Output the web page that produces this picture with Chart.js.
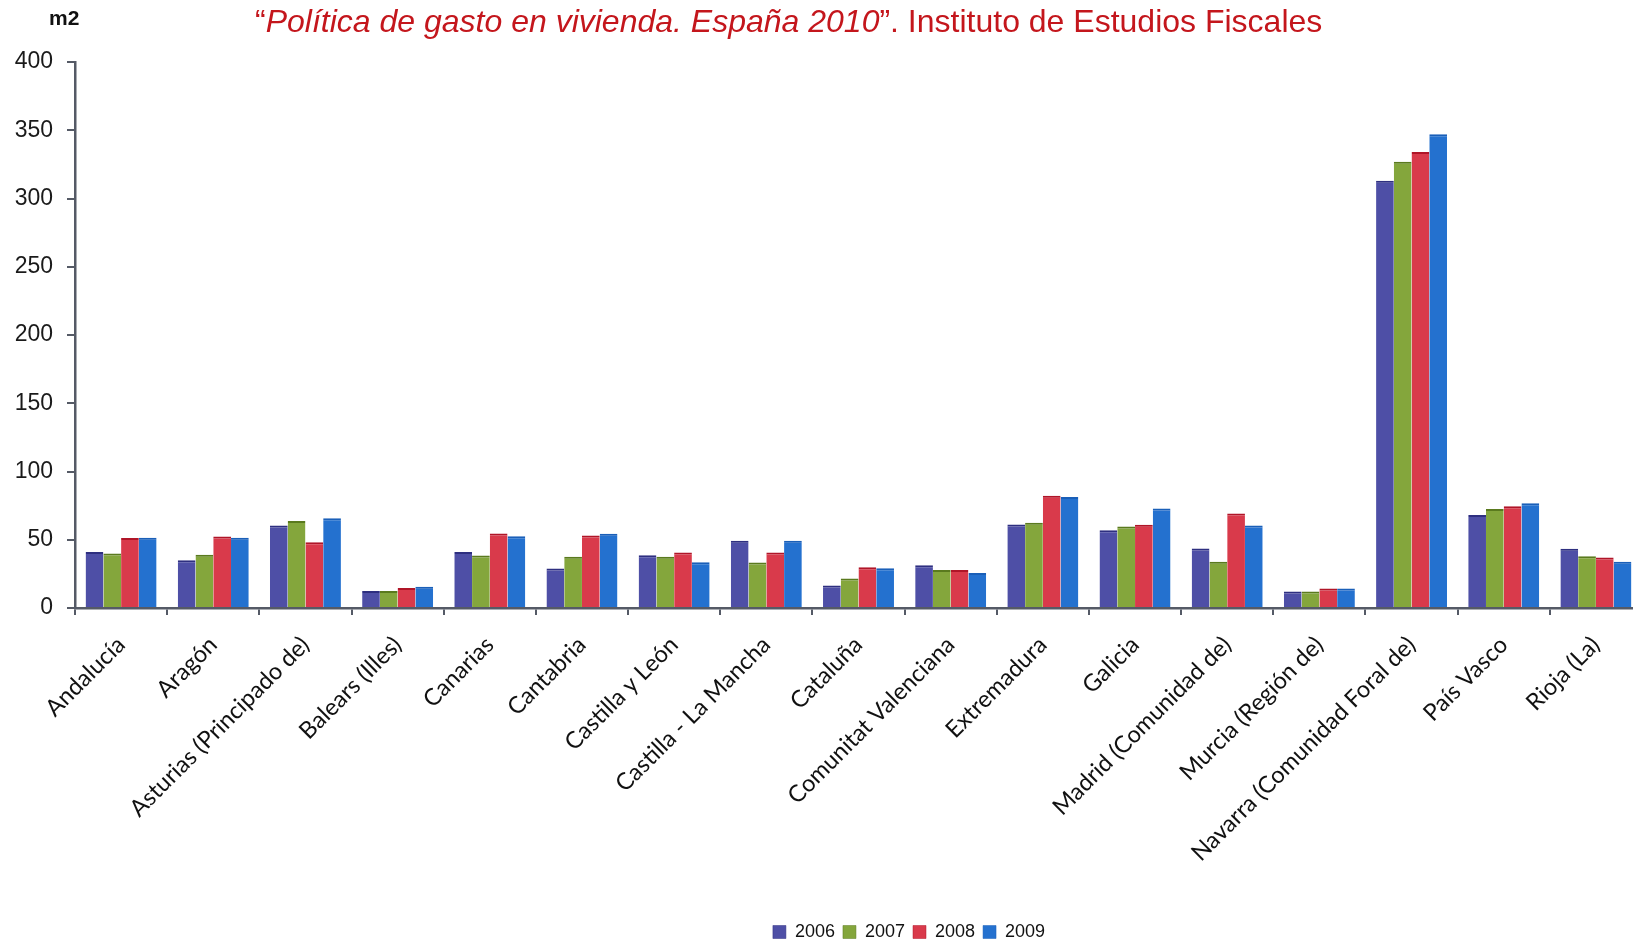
<!DOCTYPE html>
<html lang="es">
<head>
<meta charset="utf-8">
<title>Política de gasto en vivienda. España 2010</title>
<script src="https://cdn.jsdelivr.net/npm/chart.js@4.4.1/dist/chart.umd.min.js"></script>
<style>
    html, body { margin: 0; padding: 0; background: #fff; overflow: hidden; }
    #wrap { position: relative; width: 1642px; height: 944px; }
    #title {
        position: absolute; left: 255px; top: 3px;
        font: 32px 'Liberation Sans', Arial, sans-serif;
        color: #c4161c; white-space: nowrap;
    }
    #title em { font-style: italic; }
    #unit {
        position: absolute; left: 49px; top: 6px;
        font: bold 21px 'Liberation Sans', Arial, sans-serif;
        color: #111;
    }
</style>
</head>
<body>
<div id="wrap">
    <canvas id="chart"></canvas>
    <div id="title">“<em>Política de gasto en vivienda. España 2010</em>”. Instituto de Estudios Fiscales</div>
    <div id="unit">m2</div>
</div>
<script>
const regions = [
    'Andalucía', 'Aragón', 'Asturias (Principado de)', 'Balears (Illes)', 'Canarias',
    'Cantabria', 'Castilla y León', 'Castilla - La Mancha', 'Cataluña', 'Comunitat Valenciana',
    'Extremadura', 'Galicia', 'Madrid (Comunidad de)', 'Murcia (Región de)',
    'Navarra (Comunidad Foral de)', 'País Vasco', 'Rioja (La)',
];
const years = ['2006', '2007', '2008', '2009'];

const m2_2006 = [41, 35, 60.5, 12.5, 41, 29, 38.7, 49.2, 16.4, 31.3, 61.2, 57, 43.6, 12, 313, 68.1, 43.4];
const m2_2007 = [40, 39, 63.7, 12.5, 38.5, 37.5, 37.5, 33.3, 21.7, 27.9, 62.5, 59.7, 33.8, 12, 327, 72.5, 38];
const m2_2008 = [51.3, 52.4, 48.2, 14.7, 54.6, 53.2, 40.6, 40.6, 29.8, 27.9, 82.3, 60.9, 69.3, 14.2, 334, 74.5, 37];
const m2_2009 = [51.5, 51.5, 65.8, 15.6, 52.6, 54.4, 33.5, 49.2, 29.1, 25.7, 81.3, 72.9, 60.5, 14.2, 347, 76.7, 33.8];

const yTicks = [0, 50, 100, 150, 200, 250, 300, 350, 400];

const fills = ['#4e4fa6', '#84a63c', '#d93a4b', '#2471cf'];
const edges = ['#2e2f80', '#5a7a1e', '#b01528', '#1a5fb8'];
const axisColor = '#555a66';

// legend sits right of the canvas centre (and a bit lower) in the original
const shiftLegend = {
    id: 'shiftLegend',
    afterLayout(chart) {
        const lg = chart.legend;
        if (!lg) {
            return;
        }
        lg.left += 88;
        lg.right += 88;
        lg.top += 7;
        lg.bottom += 7;
    },
};

new Chart(document.getElementById('chart'), {
    type: 'bar',
    data: {
        labels: regions,
        datasets: [m2_2006, m2_2007, m2_2008, m2_2009].map((values, i) => ({
            label: years[i],
            data: values,
            backgroundColor: fills[i],
            borderColor: edges[i],
            borderWidth: { top: 2, left: 0, right: 0, bottom: 0 },
            borderSkipped: 'bottom',
            categoryPercentage: 0.77,
            barPercentage: 1.0,
        })),
    },
    options: {
        responsive: true,
        maintainAspectRatio: false,
        animation: false,
        layout: { padding: { top: 62, left: 0, right: 0, bottom: 0 } },
        plugins: {
            title: { display: false },
            tooltip: { enabled: false },
            legend: {
                position: 'bottom',
                labels: {
                    color: '#111',
                    boxWidth: 13,
                    boxHeight: 13,
                    padding: 8,
                    font: { family: "'Liberation Sans Narrow', 'Liberation Sans', Arial", size: 18 },
                },
            },
        },
        scales: {
            x: {
                afterFit(scale) { scale.height = 300; },
                border: { display: true, color: axisColor, width: 2.5 },
                grid: { display: true, drawOnChartArea: false, drawTicks: true, tickLength: 7, color: axisColor, lineWidth: 2 },
                ticks: {
                    color: '#111',
                    autoSkip: false,
                    maxRotation: 45,
                    minRotation: 45,
                    padding: 16,
                    font: { family: 'Lato', size: 23.5 },
                },
            },
            y: {
                min: 0,
                max: 400,
                afterFit(scale) { scale.width = 75; },
                afterBuildTicks(scale) { scale.ticks = yTicks.map(v => ({ value: v })); },
                border: { display: true, color: axisColor, width: 2.5 },
                grid: { display: true, drawOnChartArea: false, drawTicks: true, tickLength: 8, color: axisColor, lineWidth: 2 },
                ticks: {
                    color: '#1a1a1a',
                    padding: 14,
                    font: { family: "'Liberation Sans', Arial", size: 23 },
                },
            },
        },
    },
    plugins: [shiftLegend],
});
</script>
</body>
</html>
